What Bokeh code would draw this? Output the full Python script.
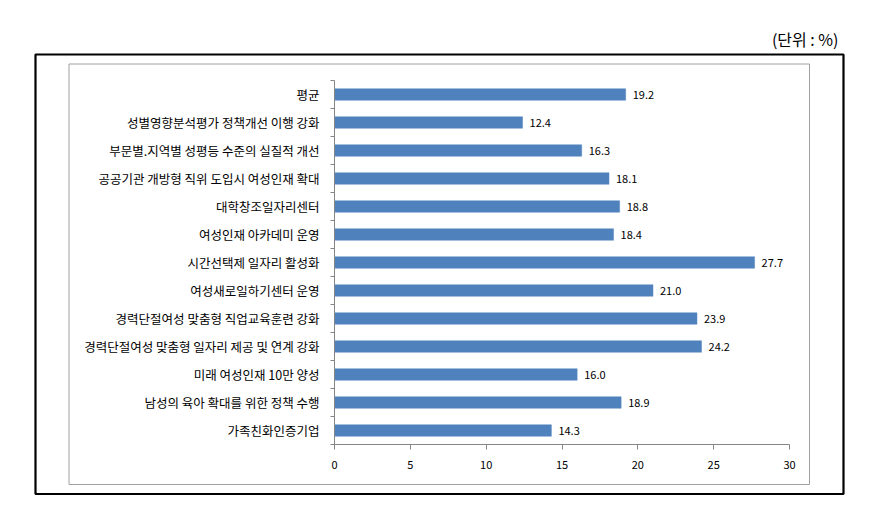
from bokeh.plotting import figure
from bokeh.models import Range1d, FixedTicker, ColumnDataSource
from bokeh.core.properties import value
from bokeh.embed import file_html
from bokeh.resources import INLINE

categories = [
    "평균",
    "성별영향분석평가 정책개선 이행 강화",
    "부문별.지역별 성평등 수준의 실질적 개선",
    "공공기관 개방형 직위 도입시 여성인재 확대",
    "대학창조일자리센터",
    "여성인재 아카데미 운영",
    "시간선택제 일자리 활성화",
    "여성새로일하기센터 운영",
    "경력단절여성 맞춤형 직업교육훈련 강화",
    "경력단절여성 맞춤형 일자리 제공 및 연계 강화",
    "미래 여성인재 10만 양성",
    "남성의 육아 확대를 위한 정책 수행",
    "가족친화인증기업",
]
values = [19.2, 12.4, 16.3, 18.1, 18.8, 18.4, 27.7, 21.0, 23.9, 24.2, 16.0, 18.9, 14.3]
x_ticks = [0, 5, 10, 15, 20, 25, 30]
unit_text = "(단위 : %)"

n = len(categories)
pos = [n - i - 0.5 for i in range(n)]
src = ColumnDataSource(dict(cat=categories, val=values, pos=pos,
                            lab=["%.1f" % v for v in values]))

# canvas layout (pixels) -> the frame covers the whole canvas, axes sit at fixed locations
W, H = 866, 500
X0_PX, X30_PX = 334, 789          # where 0 and 30 fall
YTOP_PX, YBOT_PX = 80, 444        # top / bottom of the category band
kx = (X30_PX - X0_PX) / 30.0
ky = (YBOT_PX - YTOP_PX) / float(n)


def dx(px):
    return (px - X0_PX) / kx


def dy(py):
    return (YBOT_PX - py) / ky


p = figure(width=W, height=H, output_backend="svg", toolbar_location=None,
           x_range=Range1d(dx(0), dx(W)), y_range=Range1d(dy(H), dy(0)),
           min_border=0, min_border_left=0, min_border_right=0,
           min_border_top=0, min_border_bottom=0)
p.outline_line_color = None
p.xgrid.grid_line_color = None
p.ygrid.grid_line_color = None
p.background_fill_color = "white"
p.border_fill_color = "white"

KFONT = "Noto Sans CJK KR"
axis_col = "#868686"

# frames around the chart
p.quad(left=[dx(35)], right=[dx(843)], top=[dy(54)], bottom=[dy(493.5)],
       fill_color=None, line_color="black", line_width=2.2)
p.quad(left=[dx(68.5)], right=[dx(809)], top=[dy(63.5)], bottom=[dy(484)],
       fill_color=None, line_color="#a0a0a0", line_width=1)

# unit label
p.text(x=[dx(838)], y=[dy(38)], text=[unit_text], text_align="right",
       text_baseline="middle", text_font=value(KFONT),
       text_font_size="16px", text_color="#000000")

p.hbar(y="pos", left=0, right="val", height=0.41, source=src,
       fill_color="#4F81BD", line_color="#5a8ac4", line_width=0.5)
p.text(x="val", y="pos", text="lab", source=src, x_offset=7,
       text_baseline="middle", text_align="left",
       text_font=value(KFONT), text_font_size="11px", text_color="#000000")

xa = p.xaxis[0]
xa.fixed_location = 0
xa.bounds = (0, 30)
xa.ticker = FixedTicker(ticks=x_ticks)
xa.axis_line_color = axis_col
xa.major_tick_line_color = axis_col
xa.major_tick_out = 5
xa.major_tick_in = 0
xa.minor_tick_line_color = None
xa.major_label_text_font = KFONT
xa.major_label_text_font_size = "11px"
xa.major_label_text_color = "#000000"
xa.major_label_standoff = 11

ya = p.yaxis[0]
ya.fixed_location = 0
ya.bounds = (0, n)
ya.ticker = FixedTicker(ticks=pos, minor_ticks=list(range(n + 1)))
ya.major_label_overrides = {float(y): c for y, c in zip(pos, categories)}
ya.axis_line_color = axis_col
ya.major_tick_line_color = None
ya.major_tick_out = 0
ya.major_tick_in = 0
ya.minor_tick_line_color = axis_col
ya.minor_tick_out = 4
ya.minor_tick_in = 0
ya.major_label_text_font = KFONT
ya.major_label_text_font_size = "12.5px"
ya.major_label_text_color = "#000000"
ya.major_label_standoff = 11

open("out.html", "w").write(file_html(p, INLINE))
